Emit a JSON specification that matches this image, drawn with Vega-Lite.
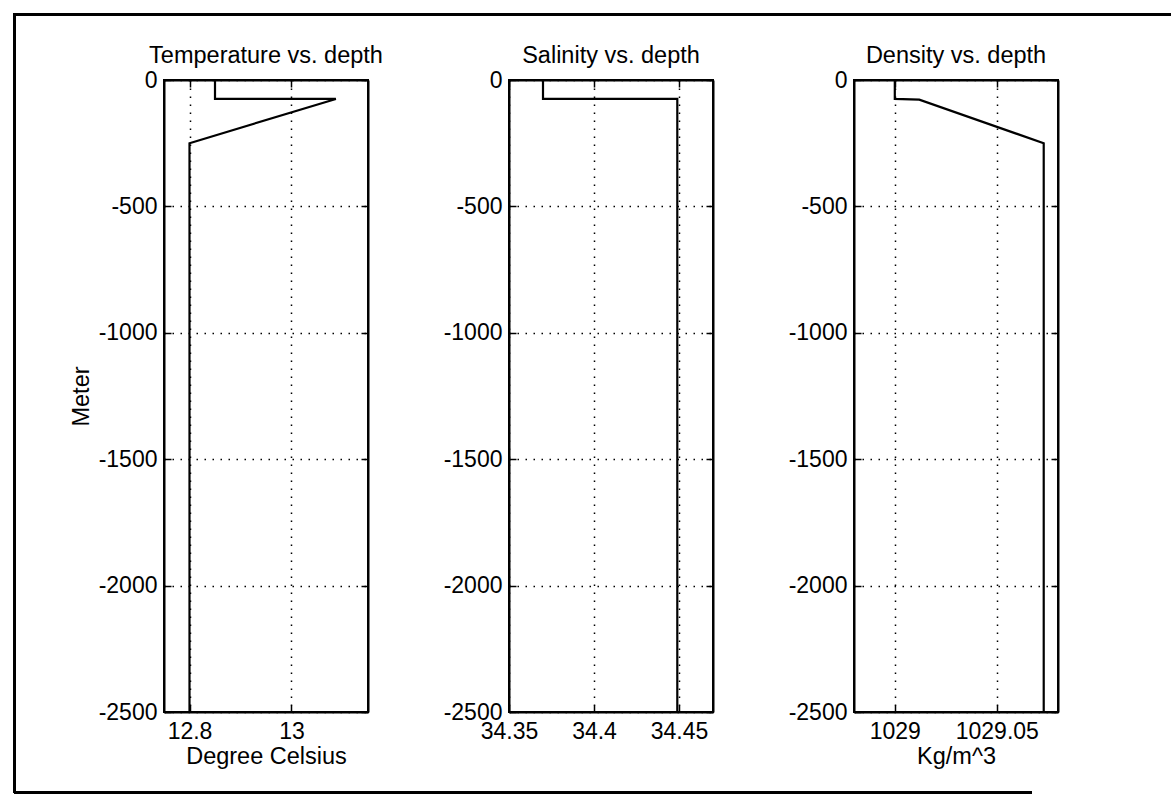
{
  "$schema": "https://vega.github.io/schema/vega-lite/v6.json",
  "padding": {"left": 13, "top": 13, "right": 0, "bottom": 0},
  "background": "white",
  "hconcat": [
    {"width": 1, "height": 778, "data": {"values": []}, "mark": "point", "view": {"stroke": "black", "strokeWidth": 2, "fill": null}},
    {
      "vconcat": [
        {"width": 1155, "height": 1, "data": {"values": []}, "mark": "point", "view": {"stroke": "black", "strokeWidth": 2, "fill": null}},
        {
          "hconcat": [
            {"width": 8, "height": 600, "data": {"values": []}, "mark": "point", "view": {"stroke": null}},
            {
              "width": 204, "height": 632,
              "title": "Temperature vs. depth",
              "view": {"stroke": "black", "strokeWidth": 2},
              "data": {"values": [
                {"i": 1, "T": 12.85, "depth": 0},
                {"i": 2, "T": 12.85, "depth": -75},
                {"i": 3, "T": 13.087, "depth": -75},
                {"i": 4, "T": 12.80, "depth": -250},
                {"i": 5, "T": 12.80, "depth": -2500}
              ]},
              "layer": [
                {
                  "mark": {"type": "line", "color": "black", "strokeWidth": 2.2},
                  "encoding": {
                    "x": {"field": "T", "type": "quantitative", "scale": {"domain": [12.75, 13.15], "zero": false, "nice": false}, "axis": {"values": [12.8, 13], "title": "Degree Celsius", "grid": true, "labelExpr": "'' + datum.value"}},
                    "y": {"field": "depth", "type": "quantitative", "scale": {"domain": [-2500, 0], "nice": false}, "axis": {"values": [0, -500, -1000, -1500, -2000, -2500], "title": "Meter", "grid": true, "labelExpr": "'' + datum.value"}},
                    "order": {"field": "i"}
                  }
                },
                {
                  "mark": {"type": "line", "strokeOpacity": 0},
                  "encoding": {
                    "x": {"field": "T", "type": "quantitative", "axis": {"orient": "top", "values": [12.8, 13], "labels": false, "title": null, "grid": false}},
                    "y": {"field": "depth", "type": "quantitative", "axis": {"orient": "right", "values": [0, -500, -1000, -1500, -2000, -2500], "labels": false, "title": null, "grid": false}},
                    "order": {"field": "i"}
                  }
                }
              ],
              "resolve": {"axis": {"x": "independent", "y": "independent"}}
            },
            {
              "width": 204, "height": 632,
              "title": "Salinity vs. depth",
              "view": {"stroke": "black", "strokeWidth": 2},
              "data": {"values": [
                {"i": 1, "S": 34.37, "depth": 0},
                {"i": 2, "S": 34.37, "depth": -75},
                {"i": 3, "S": 34.449, "depth": -75},
                {"i": 4, "S": 34.449, "depth": -2500}
              ]},
              "layer": [
                {
                  "mark": {"type": "line", "color": "black", "strokeWidth": 2.2},
                  "encoding": {
                    "x": {"field": "S", "type": "quantitative", "scale": {"domain": [34.35, 34.47], "zero": false, "nice": false}, "axis": {"values": [34.35, 34.4, 34.45], "title": null, "grid": true, "labelExpr": "'' + datum.value"}},
                    "y": {"field": "depth", "type": "quantitative", "scale": {"domain": [-2500, 0], "nice": false}, "axis": {"values": [0, -500, -1000, -1500, -2000, -2500], "title": null, "grid": true, "labelExpr": "'' + datum.value"}},
                    "order": {"field": "i"}
                  }
                },
                {
                  "mark": {"type": "line", "strokeOpacity": 0},
                  "encoding": {
                    "x": {"field": "S", "type": "quantitative", "axis": {"orient": "top", "values": [34.35, 34.4, 34.45], "labels": false, "title": null, "grid": false}},
                    "y": {"field": "depth", "type": "quantitative", "axis": {"orient": "right", "values": [0, -500, -1000, -1500, -2000, -2500], "labels": false, "title": null, "grid": false}},
                    "order": {"field": "i"}
                  }
                }
              ],
              "resolve": {"axis": {"x": "independent", "y": "independent"}}
            },
            {
              "width": 204, "height": 632,
              "title": "Density vs. depth",
              "view": {"stroke": "black", "strokeWidth": 2},
              "data": {"values": [
                {"i": 1, "D": 1029.0, "depth": 0},
                {"i": 2, "D": 1029.0, "depth": -75},
                {"i": 3, "D": 1029.012, "depth": -78},
                {"i": 4, "D": 1029.073, "depth": -250},
                {"i": 5, "D": 1029.073, "depth": -2500}
              ]},
              "layer": [
                {
                  "mark": {"type": "line", "color": "black", "strokeWidth": 2.2},
                  "encoding": {
                    "x": {"field": "D", "type": "quantitative", "scale": {"domain": [1028.98, 1029.08], "zero": false, "nice": false}, "axis": {"values": [1029, 1029.05], "title": "Kg/m^3", "grid": true, "labelExpr": "'' + datum.value"}},
                    "y": {"field": "depth", "type": "quantitative", "scale": {"domain": [-2500, 0], "nice": false}, "axis": {"values": [0, -500, -1000, -1500, -2000, -2500], "title": null, "grid": true, "labelExpr": "'' + datum.value"}},
                    "order": {"field": "i"}
                  }
                },
                {
                  "mark": {"type": "line", "strokeOpacity": 0},
                  "encoding": {
                    "x": {"field": "D", "type": "quantitative", "axis": {"orient": "top", "values": [1029, 1029.05], "labels": false, "title": null, "grid": false}},
                    "y": {"field": "depth", "type": "quantitative", "axis": {"orient": "right", "values": [0, -500, -1000, -1500, -2000, -2500], "labels": false, "title": null, "grid": false}},
                    "order": {"field": "i"}
                  }
                }
              ],
              "resolve": {"axis": {"x": "independent", "y": "independent"}}
            }
          ],
          "spacing": 141,
          "bounds": "flush"
        },
        {"width": 10, "height": 582, "data": {"values": []}, "mark": "point", "view": {"stroke": null}},
        {"width": 1016, "height": 1, "data": {"values": []}, "mark": "point", "view": {"stroke": "black", "strokeWidth": 2, "fill": null}}
      ],
      "spacing": 65,
      "bounds": "flush"
    }
  ],
  "spacing": 0,
  "bounds": "flush",
  "config": {
    "font": "Liberation Sans",
    "axis": {
      "domainColor": "black", "domainWidth": 2,
      "tickColor": "black", "tickWidth": 1.5, "tickSize": -7,
      "labelFontSize": 23, "labelColor": "black", "labelFlush": false, "labelOverlap": false,
      "titleFontSize": 23.5, "titleFontWeight": "normal", "titleColor": "black",
      "gridColor": "black", "gridDash": [1.5, 6.5], "gridWidth": 1.5, "gridOpacity": 1
    },
    "axisX": {"labelPadding": 15, "titlePadding": 1},
    "axisY": {"labelPadding": 14, "titlePadding": 5},
    "title": {"fontSize": 23.5, "fontWeight": "normal", "color": "black", "offset": 2}
  }
}
